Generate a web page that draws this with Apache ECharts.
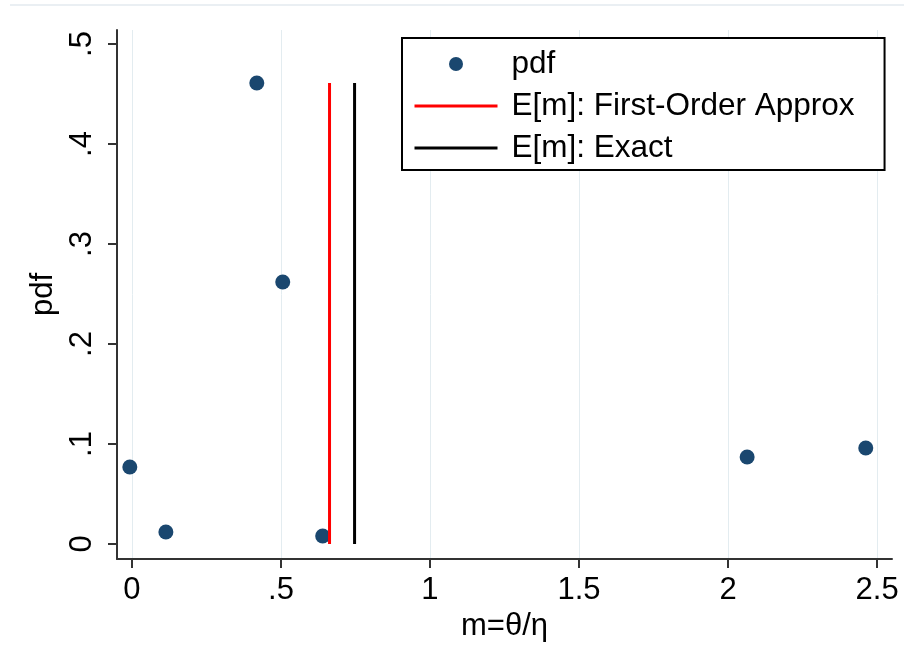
<!DOCTYPE html>
<html>
<head>
<meta charset="utf-8">
<script src="https://cdn.jsdelivr.net/npm/echarts@6/dist/echarts.min.js"></script>
<style>html,body{margin:0;padding:0;background:#fff}#c{width:904px;height:664px}</style>
</head>
<body>
<div id="c"></div>
<script>
// Data
const pdfX = [-0.007, 0.114, 0.419, 0.506, 0.640, 2.064, 2.462];
const pdfY = [0.077, 0.012, 0.461, 0.262, 0.008, 0.087, 0.096];
const approxMean = 0.663;   // E[m]: First-Order Approx
const exactMean = 0.747;    // E[m]: Exact
const meanLineY = [0, 0.461];
const xTicks = [0, 0.5, 1, 1.5, 2, 2.5];
const xTickLabels = ['0', '.5', '1', '1.5', '2', '2.5'];
const yTicks = [0, 0.1, 0.2, 0.3, 0.4, 0.5];
const yTickLabels = ['0', '.1', '.2', '.3', '.4', '.5'];
const seriesNames = ['pdf', 'E[m]: First-Order Approx', 'E[m]: Exact'];

const FONT = 'Liberation Sans, Arial, sans-serif';
const FS = 31;
const fmt = (arr, lab) => v => { const i = arr.findIndex(t => Math.abs(t - v) < 1e-9); return i >= 0 ? lab[i] : ''; };

const chart = echarts.init(document.getElementById('c'), null, {renderer: 'canvas'});
chart.setOption({
  backgroundColor: '#ffffff',
  animation: false,
  textStyle: {fontFamily: FONT},
  graphic: [{
    type: 'line', shape: {x1: 10, y1: 5, x2: 904, y2: 5},
    style: {stroke: '#eaeff3', lineWidth: 2}, silent: true
  }],
  grid: {left: 117, right: 12, top: 30, bottom: 105, containLabel: false},
  legend: {
    orient: 'vertical',
    left: 402, top: 38,
    data: seriesNames,
    itemWidth: 83, itemHeight: 14,
    itemGap: 10,
    padding: [10, 30, 6, 11],
    borderColor: '#000', borderWidth: 2,
    backgroundColor: '#fff',
    lineStyle: {width: 3},
    textStyle: {fontFamily: FONT, fontSize: 31.5, color: '#000', padding: [0, 0, 0, 9]}
  },
  xAxis: {
    type: 'value', min: -0.05, max: 2.55, interval: 0.5,
    name: 'm=θ/η', nameLocation: 'middle', nameGap: 46,
    nameTextStyle: {fontFamily: FONT, fontSize: FS, color: '#000'},
    axisLine: {show: true, onZero: false, lineStyle: {color: '#333', width: 2}},
    axisTick: {show: true, length: 9, lineStyle: {color: '#333', width: 2},
      customValues: xTicks},
    axisLabel: {fontFamily: FONT, fontSize: FS, color: '#000', margin: 16,
      customValues: xTicks, formatter: fmt(xTicks, xTickLabels)},
    splitLine: {show: true, lineStyle: {color: '#e3ecf0', width: 1}},
    minorTick: {show: false}
  },
  yAxis: {
    type: 'value', min: -0.015, max: 0.514,
    name: 'pdf', nameLocation: 'middle', nameGap: 52, nameRotate: 90,
    nameTextStyle: {fontFamily: FONT, fontSize: FS, color: '#000'},
    axisLine: {show: true, onZero: false, lineStyle: {color: '#333', width: 2}},
    axisTick: {show: true, length: 9, lineStyle: {color: '#333', width: 2},
      customValues: yTicks},
    axisLabel: {fontFamily: FONT, fontSize: FS, color: '#000', margin: 19, rotate: 90,
      customValues: yTicks, formatter: fmt(yTicks, yTickLabels)},
    splitLine: {show: false}
  },
  series: [
    {
      name: seriesNames[0], type: 'scatter',
      data: pdfX.map((x, i) => [x, pdfY[i]]),
      symbol: 'circle', symbolSize: 15,
      itemStyle: {color: '#1a476f', opacity: 1}
    },
    {
      name: seriesNames[1], type: 'line',
      data: meanLineY.map(y => [approxMean, y]),
      symbol: 'none', lineStyle: {color: '#ff0000', width: 3},
      itemStyle: {color: 'rgba(0,0,0,0)', borderWidth: 0}
    },
    {
      name: seriesNames[2], type: 'line',
      data: meanLineY.map(y => [exactMean, y]),
      symbol: 'none', lineStyle: {color: '#000000', width: 3},
      itemStyle: {color: 'rgba(0,0,0,0)', borderWidth: 0}
    }
  ]
});
</script>
</body>
</html>
